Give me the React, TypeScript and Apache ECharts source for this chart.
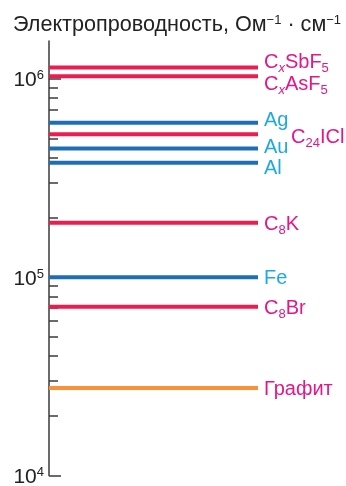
import React, { useEffect, useRef } from "react";
import * as echarts from "echarts";

const materials = ["CxSbF5", "CxAsF5", "Ag", "C24ICl", "Au", "Al", "C8K", "Fe", "C8Br", "Графит"];
const labelTexts = [
  "C{ix|x}SbF{sub|5}",
  "C{ix|x}AsF{sub|5}",
  "Ag",
  "C{sub|24}ICl",
  "Au",
  "Al",
  "C{sub|8}K",
  "Fe",
  "C{sub|8}Br",
  "Графит",
];
const conductivity = [1.14e6, 1.03e6, 6.0e5, 5.25e5, 4.45e5, 3.77e5, 1.88e5, 1.0e5, 7.1e4, 2.76e4];
const kinds = ["intercalate", "intercalate", "metal", "intercalate", "metal", "metal", "intercalate", "metal", "intercalate", "graphite"];

const majorTicks = [1e4, 1e5, 1e6];
const minorTicks = [2e4, 3e4, 4e4, 5e4, 6e4, 7e4, 8e4, 9e4, 2e5, 3e5, 4e5, 5e5, 6e5, 7e5, 8e5, 9e5];
const axisMin = 1e4;
const axisMax = 1.55e6;
const titleText = "Электропроводность, Ом{sup|−1} · см{sup|−1}";

const lineColors: Record<string, string> = {
  intercalate: "#ec1c50",
  metal: "#1c6fb6",
  graphite: "#f7923a",
};
const labelColors: Record<string, string> = {
  intercalate: "#e5168b",
  metal: "#1fa9e1",
  graphite: "#e5168b",
};
const labelOffsets: Record<string, number[]> = {
  CxSbF5: [0, -6],
  CxAsF5: [0, 7],
  Ag: [0, -4],
  C24ICl: [27, 2],
  Au: [0, -3],
  Al: [0, 4],
};

const FONT = "Liberation Sans";
const AXIS_COLOR = "#3a3a3a";

export default function App() {
  const ref = useRef<HTMLDivElement>(null);
  useEffect(() => {
    if (!ref.current) return;
    const chart = echarts.init(ref.current, null, { renderer: "svg" });
    const subStyle = { fontSize: 13, lineHeight: 13, padding: [13, 0, 0, 0], fontFamily: FONT };
    const series = materials.map((name, i) => ({
      name,
      type: "line",
      xAxisIndex: 0,
      yAxisIndex: 0,
      symbol: "circle",
      symbolSize: 0,
      silent: true,
      lineStyle: { color: lineColors[kinds[i]], width: 4, cap: "butt" },
      itemStyle: { color: lineColors[kinds[i]] },
      data: [
        [0, conductivity[i]],
        {
          value: [1, conductivity[i]],
          label: {
            show: true,
            position: "right",
            distance: 6,
            offset: labelOffsets[name] || [0, 0],
            formatter: labelTexts[i],
            color: labelColors[kinds[i]],
            fontSize: 20,
            fontFamily: FONT,
            rich: {
              sub: { ...subStyle },
              ix: { ...subStyle, fontStyle: "italic" },
            },
          },
        },
      ],
    }));
    chart.setOption({
      animation: false,
      title: {
        text: titleText,
        left: 13,
        top: 12,
        padding: 0,
        textStyle: {
          fontSize: 21.6,
          fontWeight: "normal",
          fontFamily: FONT,
          color: "#222",
          rich: {
            sup: { fontSize: 13, lineHeight: 13, padding: [0, 0, 7, 0], fontFamily: FONT, color: "#222" },
          },
        },
      },
      grid: { left: 49, top: 41, width: 209, bottom: 6, containLabel: false },
      xAxis: { type: "value", min: 0, max: 1, show: false },
      yAxis: [
        {
          type: "log",
          logBase: 10,
          min: axisMin,
          max: axisMax,
          position: "left",
          axisLine: { show: true, lineStyle: { color: AXIS_COLOR, width: 1.5 } },
          axisTick: {
            show: true,
            inside: true,
            length: 12,
            customValues: majorTicks,
            lineStyle: { color: AXIS_COLOR, width: 1.5 },
          },
          axisLabel: {
            show: true,
            customValues: majorTicks,
            margin: 5,
            fontSize: 21,
            fontFamily: FONT,
            color: "#222",
            formatter: (v: number) => "10{sup|" + Math.round(Math.log10(v)) + "}",
            rich: {
              sup: { fontSize: 13, lineHeight: 13, padding: [0, 0, 8, 0], fontFamily: FONT, color: "#222" },
            },
          },
          splitLine: { show: false },
          minorTick: { show: false },
        },
        {
          type: "log",
          logBase: 10,
          min: axisMin,
          max: axisMax,
          position: "left",
          offset: 0,
          axisLine: { show: false },
          axisTick: {
            show: true,
            inside: true,
            length: 9,
            customValues: minorTicks,
            lineStyle: { color: AXIS_COLOR, width: 1.5 },
          },
          axisLabel: { show: false },
          splitLine: { show: false },
        },
      ],
      series,
    });
    return () => chart.dispose();
  }, []);
  return <div ref={ref} style={{ position: "fixed", left: 0, top: 0, width: 346, height: 486 }} />;
}
